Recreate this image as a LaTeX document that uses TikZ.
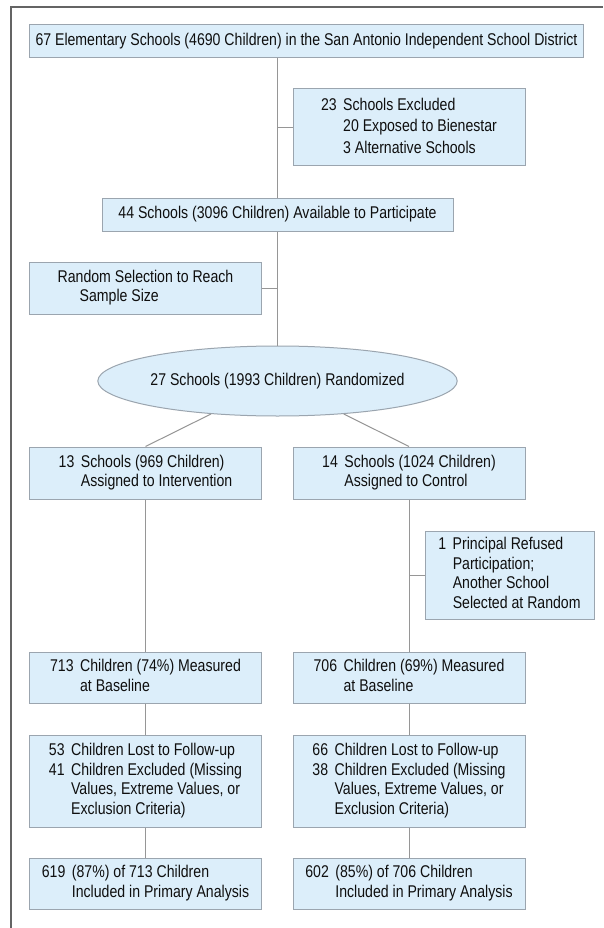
\documentclass[tikz,border=0pt]{standalone}
\usepackage{fontspec}
\setmainfont{Liberation Sans}[FakeStretch=0.83]
\usetikzlibrary{shapes.geometric}
\definecolor{boxfill}{RGB}{220,238,250}
\definecolor{boxline}{RGB}{155,165,175}
\definecolor{conn}{RGB}{150,150,150}
\definecolor{framecol}{RGB}{100,100,100}
\definecolor{txt}{RGB}{15,15,15}
\newcommand{\nt}[1]{\begin{tabular}{@{}r@{\hspace{6.5pt}}l@{}}#1\end{tabular}}
\begin{document}
\begin{tikzpicture}[x=1pt,y=-1pt,
  every node/.style={font=\fontsize{17}{19.5}\selectfont, text=txt},
  flowbox/.style={rectangle, fill=boxfill, draw=boxline, line width=1pt, inner sep=0pt},
  flowell/.style={ellipse, fill=boxfill, draw=boxline, line width=1pt, inner sep=0pt, minimum width=321pt, minimum height=70pt},
  link/.style={draw=conn, line width=1pt}]
\useasboundingbox (0,0) rectangle (603,928);
\fill[white] (0,0) rectangle (603,928);
\draw[framecol, line width=1.5pt] (11,928) -- (11,7) -- (603,7);

\coordinate (tx) at (277.5,0);

\node[flowbox, minimum width=554pt, minimum height=33pt] (top) at (306.5,41.5)
  {67 Elementary Schools (4690 Children) in the San Antonio Independent School District};
\node[flowbox, minimum width=232pt, minimum height=77pt] (excl) at (409,127.5)
  {\fontsize{17}{21.5}\selectfont\nt{23 & Schools Excluded\\ & 20 Exposed to Bienestar\\ & 3 Alternative Schools}};
\node[flowbox, minimum width=351pt, minimum height=33pt] (n44) at (277.5,214.5)
  {44 Schools (3096 Children) Available to Participate};
\node[flowbox, minimum width=232pt, minimum height=52pt] (rand) at (145.5,288)
  {\begin{tabular}{@{}l@{}}Random Selection to Reach\\\hspace{22pt}Sample Size\end{tabular}};
\node[flowell] (ell) at (277.5,381) {27 Schools (1993 Children) Randomized};

\node[flowbox, minimum width=232pt, minimum height=52pt] (n13) at (145.5,473)
  {\nt{13 & Schools (969 Children)\\ & Assigned to Intervention}};
\node[flowbox, minimum width=232pt, minimum height=52pt] (n14) at (409,473)
  {\nt{14 & Schools (1024 Children)\\ & Assigned to Control}};
\node[flowbox, minimum width=169pt, minimum height=88pt] (princ) at (509.5,575)
  {\nt{1 & Principal Refused\\ & Participation;\\ & Another School\\ & Selected at Random}};

\node[flowbox, minimum width=232pt, minimum height=51pt] (n713) at (145.5,677.5)
  {\nt{713 & Children (74\%) Measured\\ & at Baseline}};
\node[flowbox, minimum width=232pt, minimum height=51pt] (n706) at (409,677.5)
  {\nt{706 & Children (69\%) Measured\\ & at Baseline}};

\node[flowbox, minimum width=232pt, minimum height=92pt] (n53) at (145.5,781)
  {\nt{53 & Children Lost to Follow-up\\ 41 & Children Excluded (Missing\\ & Values, Extreme Values, or\\ & Exclusion Criteria)}};
\node[flowbox, minimum width=232pt, minimum height=92pt] (n66) at (409,781)
  {\nt{66 & Children Lost to Follow-up\\ 38 & Children Excluded (Missing\\ & Values, Extreme Values, or\\ & Exclusion Criteria)}};

\node[flowbox, minimum width=232pt, minimum height=51pt] (n619) at (145.5,883.5)
  {\nt{619 & (87\%) of 713 Children\\ & Included in Primary Analysis}};
\node[flowbox, minimum width=232pt, minimum height=51pt] (n602) at (409,883.5)
  {\nt{602 & (85\%) of 706 Children\\ & Included in Primary Analysis}};

% connectors
\draw[link] (top.south -| tx) -- (n44.north -| tx);
\draw[link] (excl.west) -- (excl.west -| tx);
\draw[link] (n44.south -| tx) -- (ell.north);
\draw[link] (rand.east) -- (rand.east -| tx);
\draw[link] (ell) -- (n13.north);
\draw[link] (ell) -- (n14.north);
\draw[link] (n13.south) -- (n713.north);
\draw[link] (n14.south) -- (n706.north);
\draw[link] (princ.west) -- (princ.west -| n14.south);
\draw[link] (n713.south) -- (n53.north);
\draw[link] (n706.south) -- (n66.north);
\draw[link] (n53.south) -- (n619.north);
\draw[link] (n66.south) -- (n602.north);
\end{tikzpicture}
\end{document}
